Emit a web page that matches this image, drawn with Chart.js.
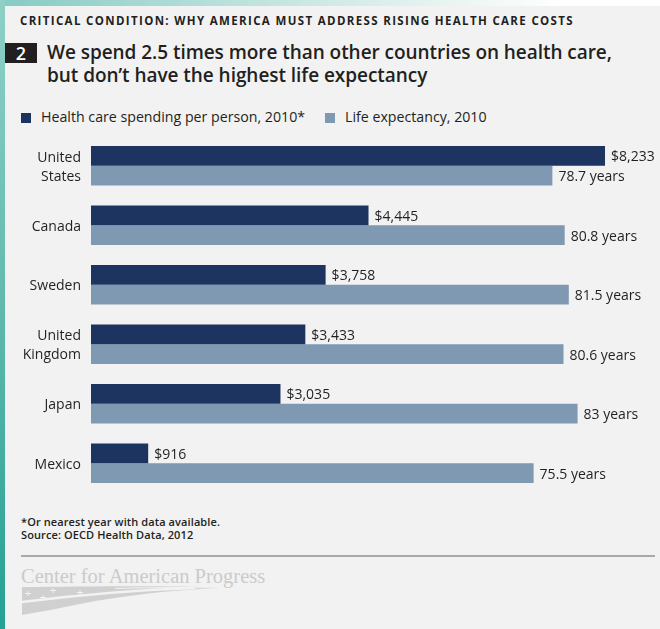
<!DOCTYPE html>
<html>
<head>
<meta charset="utf-8">
<script src="https://cdn.jsdelivr.net/npm/chart.js@4/dist/chart.umd.min.js"></script>
<style>
  html, body { margin: 0; padding: 0; }
  body { width: 660px; height: 629px; position: relative; overflow: hidden; background: #f2f2f2; font-family: "Open Sans", sans-serif; color: #231f20; }
  .strip-top { position: absolute; left: 0; top: 0; width: 660px; height: 6px; background: linear-gradient(to right, #86cbc2 0%, #c9e7e2 45%, #ffffff 85%); }
  .strip-left { position: absolute; left: 0; top: 0; width: 5px; height: 629px; background: linear-gradient(to bottom, #8fd0c6 0%, #5fb9ad 50%, #23a192 100%); }
  .kicker { position: absolute; left: 20px; top: 13px; font-size: 11.5px; font-weight: 700; letter-spacing: 1.35px; white-space: nowrap; }
  .num { position: absolute; left: 5px; top: 43px; width: 32px; height: 20px; background: #231f20; color: #fff; font-size: 18px; font-weight: 600; line-height: 20px; text-align: center; }
  .title { position: absolute; left: 47px; top: 40.5px; font-size: 19px; font-weight: 600; line-height: 23.5px; white-space: nowrap; letter-spacing: -0.05px; }
  .legend { position: absolute; top: 107px; left: 0; font-size: 14.2px; white-space: nowrap; }
  .legend span.item { position: absolute; top: 0; display: block; }
  .legend i { position: absolute; top: 6px; width: 10px; height: 10px; }
  .notes { position: absolute; left: 21px; top: 515px; font-size: 11px; font-weight: 600; line-height: 13px; letter-spacing: 0.1px; white-space: nowrap; }
  .rule { position: absolute; left: 21px; top: 555px; width: 634px; height: 2px; background: #a9a9a9; }
  .brand { position: absolute; left: 21px; top: 565px; font-family: "Liberation Serif", serif; font-size: 20.5px; color: #cbcbcb; white-space: nowrap; }
  #chartWrap { position: absolute; left: 0; top: 130px; width: 660px; height: 370px; }
  svg.flag { position: absolute; left: 20px; top: 584px; }
</style>
</head>
<body>
<div class="strip-top"></div>
<div class="strip-left"></div>
<div class="kicker">CRITICAL CONDITION: WHY AMERICA MUST ADDRESS RISING HEALTH CARE COSTS</div>
<div class="num">2</div>
<div class="title">We spend 2.5 times more than other countries on health care,<br>but don’t have the highest life expectancy</div>
<div class="legend" id="legend"></div>
<div id="chartWrap"><canvas id="chart" width="660" height="370"></canvas></div>
<div class="notes">*Or nearest year with data available.<br>Source: OECD Health Data, 2012</div>
<div class="rule"></div>
<div class="brand">Center for American Progress</div>
<svg class="flag" width="210" height="34" viewBox="0 0 210 34">
  <path d="M2 3 C60 3 140 1 200 4 C150 6 100 12 60 20 C40 24 20 28 2 31 Z" fill="#d0d0d0"/>
  <path d="M2 18 C50 12 110 6 175 4" stroke="#f2f2f2" stroke-width="2.5" fill="none"/>
  <path d="M95 4.5 C130 3.5 165 3 200 4" stroke="#f2f2f2" stroke-width="1.2" fill="none"/>
  <g fill="#f2f2f2">
    <path d="M5 9 h6 v1 h-6 z M7.5 7 h1 v5 h-1 z"/>
    <path d="M30 6 h6 v1 h-6 z M32.5 4 h1 v5 h-1 z"/>
    <path d="M57 8 h6 v1 h-6 z M59.5 6 h1 v5 h-1 z"/>
    <path d="M20 13 h6 v1 h-6 z M22.5 11 h1 v5 h-1 z"/>
  </g>
</svg>

<script>
// Countries (multi-line labels are arrays)
const countries = [["United", "States"], "Canada", "Sweden", ["United", "Kingdom"], "Japan", "Mexico"];
// Health care spending per person, 2010 (US dollars)
const spending = [8233, 4445, 3758, 3433, 3035, 916];
// Life expectancy at birth, 2010 (years)
const lifeExpectancy = [78.7, 80.8, 81.5, 80.6, 83, 75.5];
const seriesNames = ["Health care spending per person, 2010*", "Life expectancy, 2010"];
const seriesColors = ["#1d3461", "#7f99b2"];

const FONT = "'Open Sans', sans-serif";

// Legend built from the series names and colours
const legend = document.getElementById("legend");
const legendX = [21, 325];
seriesNames.forEach((name, i) => {
  const item = document.createElement("span");
  item.className = "item";
  item.style.left = legendX[i] + "px";
  item.innerHTML = '<i style="background:' + seriesColors[i] + ';left:0"></i><span style="margin-left:20px">' + name + '</span>';
  legend.appendChild(item);
});

// Value labels at the end of each bar
const valueLabels = {
  id: "valueLabels",
  afterDatasetsDraw(chart) {
    const ctx = chart.ctx;
    ctx.save();
    ctx.font = "14px " + FONT;
    ctx.fillStyle = "#231f20";
    ctx.textBaseline = "middle";
    ctx.textAlign = "left";
    chart.data.datasets.forEach((ds, di) => {
      const meta = chart.getDatasetMeta(di);
      meta.data.forEach((bar, i) => {
        const v = ds.data[i];
        const text = di === 0 ? "$" + v.toLocaleString("en-US") : v + " years";
        ctx.fillText(text, bar.x + 6, bar.y + 1.5);
      });
    });
    ctx.restore();
  }
};

new Chart(document.getElementById("chart"), {
  type: "bar",
  data: {
    labels: countries,
    datasets: [
      { label: seriesNames[0], data: spending, backgroundColor: seriesColors[0], xAxisID: "x" },
      { label: seriesNames[1], data: lifeExpectancy, backgroundColor: seriesColors[1], xAxisID: "x2" }
    ]
  },
  options: {
    indexAxis: "y",
    responsive: false,
    animation: false,
    devicePixelRatio: 1,
    categoryPercentage: 0.665,
    barPercentage: 1.0,
    layout: { padding: { left: 0, right: 49, top: 6, bottom: 7 } },
    plugins: { legend: { display: false }, tooltip: { enabled: false } },
    scales: {
      x: { display: false, min: 0, max: 8329 },
      x2: { display: false, min: 0, max: 88.7 },
      y: {
        grid: { display: false, drawTicks: false },
        border: { display: false },
        ticks: { color: "#231f20", padding: 10, labelOffset: 1.5, font: { family: FONT, size: 14, lineHeight: 1.36 } },
        afterFit(scale) {
          scale.width = 91;
          scale.paddingTop = 0;
          scale.paddingBottom = 0;
        }
      }
    }
  },
  plugins: [valueLabels]
});
</script>
</body>
</html>
